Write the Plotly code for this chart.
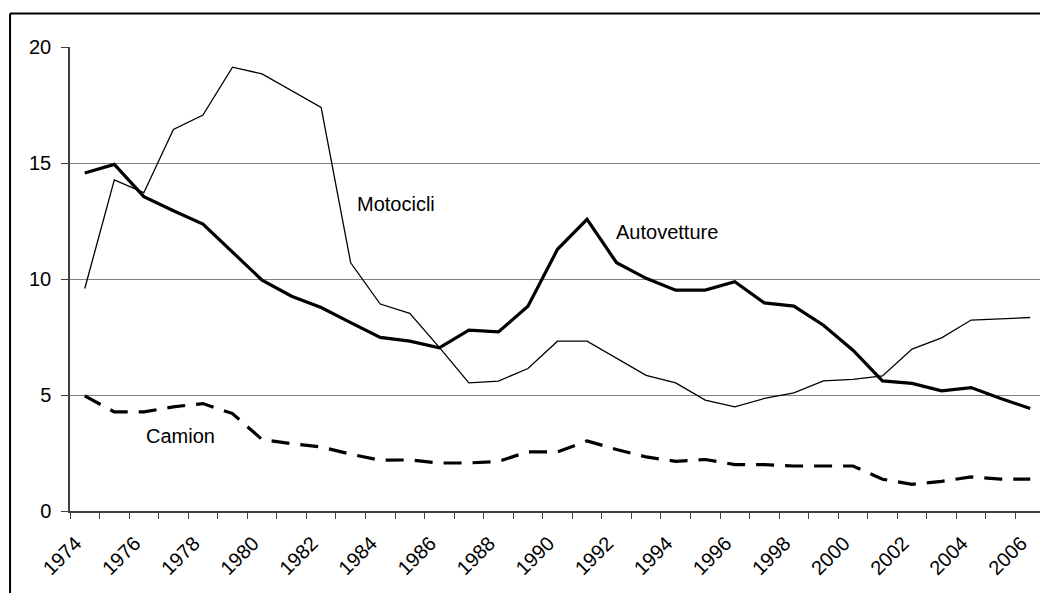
import plotly.graph_objects as go

years = list(range(1974, 2007))

autovetture = [14.57, 14.94, 13.55, 12.94, 12.37, 11.17, 9.95, 9.26, 8.77, 8.12,
               7.48, 7.32, 7.03, 7.80, 7.72, 8.83, 11.28, 12.57, 10.70, 10.03,
               9.52, 9.52, 9.88, 8.97, 8.83, 8.01, 6.93, 5.61, 5.50, 5.18,
               5.32, 4.85, 4.42]
motocicli = [9.59, 14.27, 13.72, 16.45, 17.07, 19.13, 18.84, 18.12, 17.40, 10.70,
             8.92, 8.52, 7.05, 5.52, 5.60, 6.14, 7.32, 7.32, 6.57, 5.85,
             5.52, 4.78, 4.49, 4.85, 5.09, 5.61, 5.67, 5.82, 6.98, 7.46,
             8.23, 8.28, 8.34]
camion = [4.96, 4.27, 4.27, 4.49, 4.63, 4.20, 3.08, 2.90, 2.76, 2.45,
          2.19, 2.20, 2.07, 2.07, 2.14, 2.55, 2.55, 3.02, 2.65, 2.33,
          2.14, 2.22, 2.00, 2.00, 1.94, 1.94, 1.94, 1.37, 1.15, 1.28,
          1.47, 1.37, 1.37]

x_ticks = list(range(1974, 2007, 2))
y_ticks = [0, 5, 10, 15, 20]

FONT = "Liberation Sans, Arial, sans-serif"

fig = go.Figure()
fig.add_trace(go.Scatter(x=years, y=motocicli, mode="lines", name="Motocicli",
                         line=dict(color="black", width=1.3)))
fig.add_trace(go.Scatter(x=years, y=autovetture, mode="lines", name="Autovetture",
                         line=dict(color="black", width=3.2)))
fig.add_trace(go.Scatter(x=years, y=camion, mode="lines", name="Camion",
                         line=dict(color="black", width=3.2, dash="18px,11px")))

for txt, xx, yy in [("Motocicli", 1983.13, 13.23), ("Autovetture", 1991.9, 12.02), ("Camion", 1976.0, 3.24)]:
    fig.add_annotation(x=xx, y=yy, text=txt, showarrow=False, xanchor="left", yanchor="middle",
                       font=dict(family=FONT, size=20, color="black"))

# outer chart frame (top and left edges visible) and right edge of the plot area
frame = dict(color="black", width=2)
fig.add_shape(type="line", xref="paper", yref="paper", x0=-0.0615, x1=1.0, y0=1.072, y1=1.072, line=frame)
fig.add_shape(type="line", xref="paper", yref="paper", x0=-0.0615, x1=-0.0615, y0=1.072, y1=-0.25, line=frame)
fig.add_shape(type="line", xref="paper", yref="paper", x0=1, x1=1, y0=0, y1=1,
              line=dict(color="#808080", width=1.5))

# page body has an 8px margin, so the figure is sized to fit inside the window
fig.update_layout(
    width=1040, height=585, showlegend=False,
    paper_bgcolor="white", plot_bgcolor="white",
    margin=dict(l=62, r=3, t=39, b=82, autoexpand=False),
    font=dict(family=FONT, size=20, color="black"),
    xaxis=dict(range=[1973.5, 2006.5], tickvals=x_ticks, ticktext=[str(y) for y in x_ticks],
               tickangle=-45, ticks="", showgrid=False, zeroline=False, automargin=False,
               showline=True, linecolor="#404040", linewidth=1.5,
               ticklabelstandoff=11, ticklabelshift=-9,
               minor=dict(ticks="outside", tick0=1973.5, dtick=1, ticklen=6,
                          tickcolor="#404040", tickwidth=1.2, showgrid=False),
               tickfont=dict(family=FONT, size=20)),
    yaxis=dict(range=[0, 20], tickvals=y_ticks, ticks="outside", ticklen=7, automargin=False,
               tickcolor="#404040", showgrid=True, gridcolor="#808080", gridwidth=1.2,
               zeroline=False, showline=True, linecolor="#404040", linewidth=1.5,
               ticklabelstandoff=6,
               tickfont=dict(family=FONT, size=20)),
)

fig.write_html("out.html")
